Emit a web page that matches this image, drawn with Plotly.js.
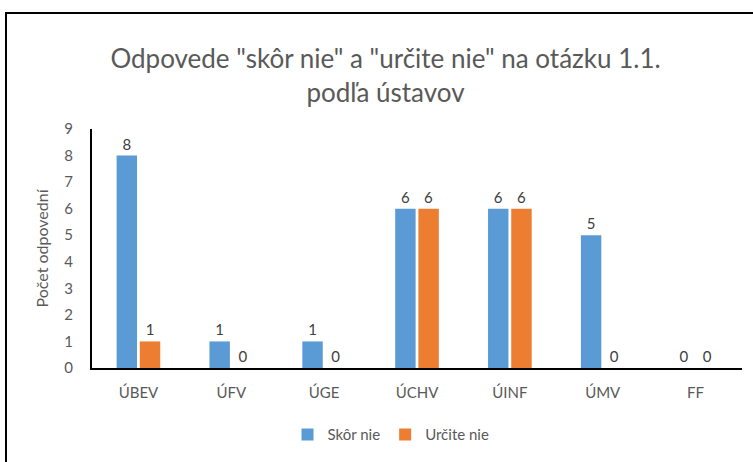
<!DOCTYPE html>
<html>
<head>
<meta charset="utf-8">
<script src="https://cdn.plot.ly/plotly-3.0.1.min.js"></script>
<style>
body{margin:0;padding:0;background:#fff;}
#wrap{position:relative;width:753px;height:462px;}
#chart{width:753px;height:462px;}
#frame{position:absolute;left:5px;top:12px;width:800px;height:500px;border-left:2px solid #000;border-top:2px solid #000;pointer-events:none;}
</style>
</head>
<body>
<div id="wrap"><div id="chart"></div><div id="frame"></div></div>
<script>
const categories = ["ÚBEV", "ÚFV", "ÚGE", "ÚCHV", "ÚINF", "ÚMV", "FF"];
const skorNie = [8, 1, 1, 6, 6, 5, 0];
const urciteNie = [1, 0, 0, 6, 6, 0, 0];
const seriesNames = ["Skôr nie", "Určite nie"];

const FONT = "Lato, 'Open Sans', sans-serif";
const traces = [
  {type:"bar", name:seriesNames[0], x:categories, y:skorNie, marker:{color:"#5B9BD5"},
   text:skorNie.map(String), textposition:"outside", cliponaxis:false,
   textfont:{family:FONT, size:15, color:"#404040"}},
  {type:"bar", name:seriesNames[1], x:categories, y:urciteNie, marker:{color:"#ED7D31"},
   text:urciteNie.map(String), textposition:"outside", cliponaxis:false,
   textfont:{family:FONT, size:15, color:"#404040"}}
];
const layout = {
  width:753, height:462,
  margin:{l:92, r:11, t:129, b:91},
  paper_bgcolor:"#fff", plot_bgcolor:"#fff",
  font:{family:FONT, color:"#595959"},
  title:{text:'Odpovede "skôr nie" a "určite nie" na otázku 1.1.<br>podľa ústavov',
         font:{family:FONT, size:26, color:"#595959"}, x:0.512, xanchor:"center", y:0.852, yanchor:"middle"},
  barmode:"group", bargap:0.5, bargroupgap:0.12,
  xaxis:{type:"category", showline:true, linecolor:"#000", linewidth:2, showgrid:false, automargin:false,
         ticks:"", ticklabelstandoff:10, tickfont:{family:FONT, size:15, color:"#595959"}, fixedrange:true},
  yaxis:{range:[0,9], dtick:1, showline:true, linecolor:"#000", linewidth:2, showgrid:false, automargin:false,
         zeroline:false, ticks:"", ticklabelstandoff:14, tickfont:{family:FONT, size:15, color:"#595959"},
         title:{text:"Počet odpovední", font:{family:FONT, size:16, color:"#595959"}, standoff:12}},
  showlegend:true,
  legend:{orientation:"h", x:0.46, xanchor:"center", y:-0.21, yanchor:"top",
          font:{family:FONT, size:15, color:"#595959"}, itemwidth:30, traceorder:"normal"}
};
Plotly.newPlot("chart", traces, layout, {displayModeBar:false, staticPlot:true});
</script>
</body>
</html>
